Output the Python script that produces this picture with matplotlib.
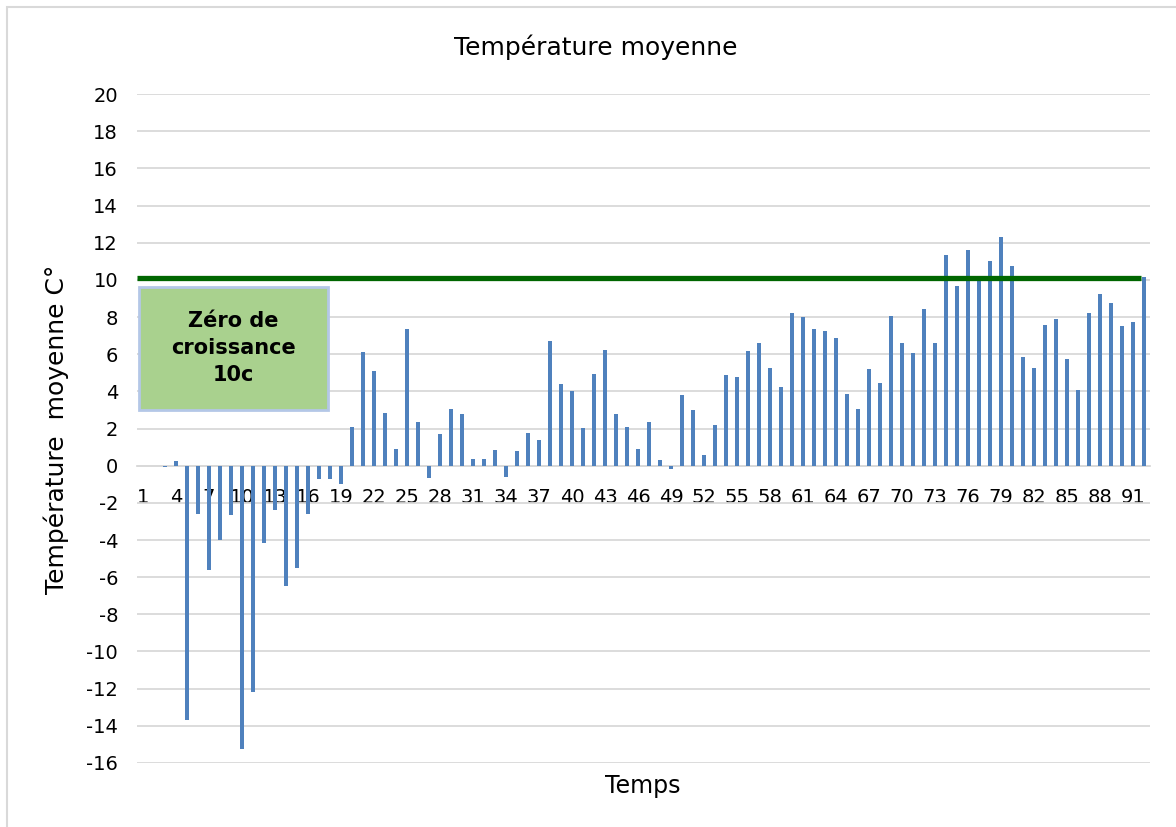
import matplotlib.pyplot as plt
from matplotlib.patches import Rectangle

plt.rcParams['font.family'] = ['DejaVu Sans']
plt.rcParams['axes.unicode_minus'] = False

# données
jours = list(range(1, 93))
temp_moy = [0, 0, -0.05, 0.27, -13.7, -2.6, -5.6, -4.0, -2.66, -15.26,
            -12.2, -4.16, -2.37, -6.5, -5.51, -2.6, -0.72, -0.72, -1.0, 2.1,
            6.14, 5.1, 2.84, 0.9, 7.38, 2.33, -0.66, 1.69, 3.05, 2.78,
            0.38, 0.38, 0.83, -0.61, 0.79, 1.78, 1.38, 6.73, 4.38, 4.04,
            2.05, 4.94, 6.23, 2.76, 2.08, 0.88, 2.37, 0.31, -0.2, 3.81,
            3.0, 0.57, 2.17, 4.88, 4.77, 6.19, 6.59, 5.28, 4.24, 8.19,
            7.99, 7.38, 7.27, 6.87, 3.88, 3.03, 5.19, 4.43, 8.08, 6.62,
            6.09, 8.44, 6.62, 11.33, 9.69, 11.63, 9.96, 11.04, 12.28, 10.77,
            5.83, 5.28, 7.59, 7.88, 5.73, 4.09, 8.19, 9.24, 8.78, 7.50,
            7.74, 10.18]
seuil = 10.1
ticks_x = jours[::3]
ticks_y = list(range(-16, 21, 2))

fig = plt.figure(figsize=(11.76, 8.27), dpi=100)

# cadre du graphique (gris clair)
fig.patches.append(Rectangle((7 / 1176, -0.1), 1.2, 1 - 7 / 827 + 0.1,
                             transform=fig.transFigure, fill=False,
                             edgecolor='#d9d9d9', linewidth=1.5))

ax = fig.add_axes([0.1169, 0.0774, 0.8606, 0.8089])
ax.bar(jours, temp_moy, width=0.36, color='#4f81bd', zorder=3)
ax.hlines(seuil, 0.5, 91.7, color='#006600', linewidth=3.8, zorder=4)

ax.set_xlim(0.5, 92.5)
ax.set_ylim(-16, 20)
ax.set_yticks(ticks_y)
ax.set_xticks(ticks_x)
ax.grid(axis='y', color='#d9d9d9', linewidth=1.3)
ax.set_axisbelow(True)
for s in ['top', 'right', 'left']:
    ax.spines[s].set_visible(False)
ax.spines['bottom'].set_position(('data', 0))
ax.spines['bottom'].set_color('#d9d9d9')
ax.spines['bottom'].set_linewidth(1.3)
ax.tick_params(axis='both', length=0, labelsize=14, colors='#000000')
ax.tick_params(axis='x', pad=16)
ax.tick_params(axis='y', pad=14)

fig.text(596 / 1176, 1 - 47 / 827, 'Température moyenne', ha='center',
         va='center', fontsize=18)
fig.text(643 / 1176, 1 - 786 / 827, 'Temps', ha='center', va='center',
         fontsize=17)
fig.text(56 / 1176, 1 - 429 / 827, 'Température  moyenne C°', ha='center',
         va='center', rotation=90, fontsize=18)

# encadré vert
fig.patches.append(Rectangle((139 / 1176, 1 - 410 / 827), 189 / 1176, 123 / 827,
                             transform=fig.transFigure, facecolor='#a9d18e',
                             edgecolor='#b4c7e7', linewidth=2, zorder=5))
fig.text(233 / 1176, 1 - 348 / 827, 'Zéro de\ncroissance\n10c', ha='center',
         va='center', fontsize=15, fontweight='bold', linespacing=1.45,
         zorder=6)

fig.savefig('out.png', dpi=100)
